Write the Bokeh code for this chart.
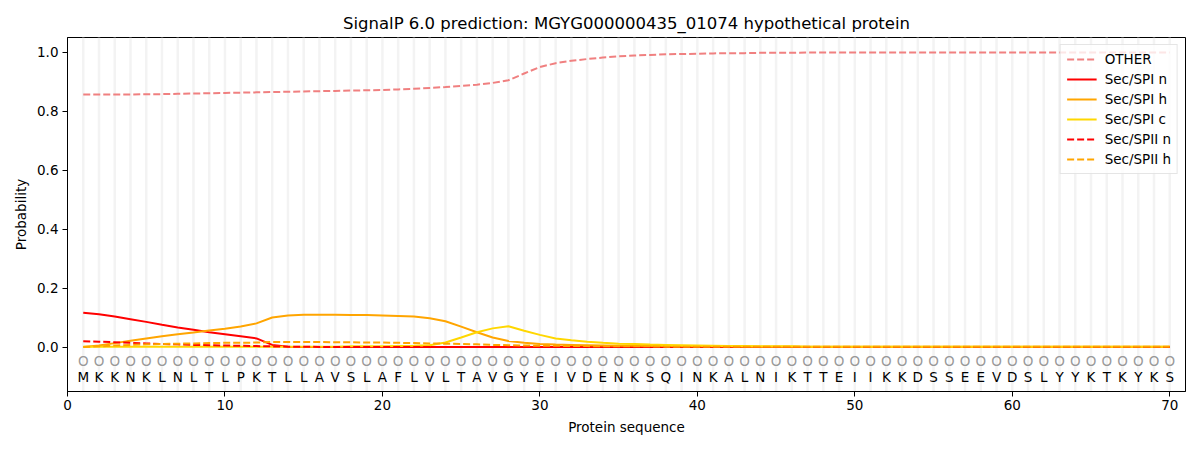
from bokeh.plotting import figure
from bokeh.models import Range1d, FixedTicker, PrintfTickFormatter, Legend, LegendItem, ColumnDataSource
from bokeh.core.properties import value
from bokeh.embed import file_html
from bokeh.resources import INLINE

sequence = list("MKKNKLNLTLPKTLLAVSLAFLVLTAVGYEIVDENKSQINKALNIKTTEIIKKDSSEEVDSLYYKTKYKS")
positions = list(range(1, len(sequence) + 1))
labels = ["O"] * len(sequence)

other = [0.857, 0.857, 0.857, 0.857, 0.858, 0.858, 0.859, 0.860, 0.861, 0.862,
         0.863, 0.864, 0.865, 0.866, 0.867, 0.868, 0.869, 0.870, 0.871, 0.872,
         0.874, 0.876, 0.879, 0.882, 0.886, 0.890, 0.896, 0.905, 0.928, 0.950,
         0.963, 0.971, 0.977, 0.982, 0.986, 0.989, 0.991, 0.993, 0.994, 0.995,
         0.996, 0.997, 0.997, 0.998, 0.998, 0.998, 0.999, 0.999, 0.999, 0.999,
         0.999, 0.999, 0.999, 0.999, 0.999, 0.999, 0.999, 0.999, 0.999, 0.999,
         0.999, 0.999, 0.999, 0.999, 0.999, 0.999, 0.999, 0.999, 0.999, 0.999]
spi_n = [0.117, 0.112, 0.104, 0.095, 0.086, 0.076, 0.067, 0.059, 0.051, 0.044,
         0.037, 0.030, 0.008, 0.002, 0.001, 0.001, 0.001, 0.001, 0.001, 0.001,
         0.001, 0.001, 0.001, 0.001, 0.001, 0.001, 0.001, 0.001, 0.001, 0.001,
         0.001, 0.001, 0.001, 0.001, 0.001, 0.001, 0.001, 0.001, 0.001, 0.001,
         0.001, 0.001, 0.001, 0.001, 0.001, 0.001, 0.001, 0.001, 0.001, 0.001,
         0.001, 0.001, 0.001, 0.001, 0.001, 0.001, 0.001, 0.001, 0.001, 0.001,
         0.001, 0.001, 0.001, 0.001, 0.001, 0.001, 0.001, 0.001, 0.001, 0.001]
spi_h = [0.001, 0.006, 0.014, 0.022, 0.030, 0.037, 0.044, 0.050, 0.057, 0.063,
         0.070, 0.081, 0.101, 0.108, 0.110, 0.110, 0.110, 0.109, 0.109, 0.108,
         0.106, 0.104, 0.098, 0.088, 0.070, 0.051, 0.033, 0.021, 0.015, 0.011,
         0.009, 0.008, 0.007, 0.006, 0.005, 0.005, 0.004, 0.004, 0.003, 0.003,
         0.003, 0.003, 0.002, 0.002, 0.002, 0.002, 0.002, 0.002, 0.002, 0.002,
         0.002, 0.002, 0.002, 0.002, 0.002, 0.002, 0.002, 0.002, 0.002, 0.002,
         0.002, 0.002, 0.002, 0.002, 0.002, 0.002, 0.002, 0.002, 0.002, 0.002]
spi_c = [0.002, 0.002, 0.002, 0.002, 0.002, 0.002, 0.002, 0.002, 0.002, 0.002,
         0.002, 0.002, 0.002, 0.002, 0.002, 0.002, 0.002, 0.003, 0.003, 0.003,
         0.004, 0.005, 0.007, 0.016, 0.033, 0.051, 0.064, 0.071, 0.056, 0.042,
         0.030, 0.024, 0.019, 0.015, 0.012, 0.011, 0.009, 0.008, 0.007, 0.006,
         0.005, 0.004, 0.004, 0.003, 0.003, 0.003, 0.002, 0.002, 0.002, 0.002,
         0.002, 0.002, 0.002, 0.002, 0.002, 0.002, 0.002, 0.002, 0.002, 0.002,
         0.002, 0.002, 0.002, 0.002, 0.002, 0.002, 0.002, 0.002, 0.002, 0.002]
spii_n = [0.020, 0.019, 0.017, 0.015, 0.013, 0.011, 0.010, 0.008, 0.007, 0.006,
          0.005, 0.004, 0.003, 0.002, 0.002, 0.001, 0.001, 0.001, 0.001, 0.001,
          0.001, 0.001, 0.001, 0.001, 0.001, 0.001, 0.001, 0.001, 0.001, 0.001,
          0.001, 0.001, 0.001, 0.001, 0.001, 0.001, 0.001, 0.001, 0.001, 0.001,
          0.001, 0.001, 0.001, 0.001, 0.001, 0.001, 0.001, 0.001, 0.001, 0.001,
          0.001, 0.001, 0.001, 0.001, 0.001, 0.001, 0.001, 0.001, 0.001, 0.001,
          0.001, 0.001, 0.001, 0.001, 0.001, 0.001, 0.001, 0.001, 0.001, 0.001]
spii_h = [0.001, 0.003, 0.006, 0.008, 0.010, 0.011, 0.012, 0.013, 0.014, 0.015,
          0.015, 0.016, 0.018, 0.018, 0.018, 0.018, 0.017, 0.017, 0.016, 0.016,
          0.015, 0.014, 0.013, 0.012, 0.011, 0.010, 0.008, 0.007, 0.006, 0.005,
          0.005, 0.004, 0.004, 0.003, 0.003, 0.003, 0.003, 0.002, 0.002, 0.002,
          0.002, 0.002, 0.002, 0.002, 0.002, 0.002, 0.002, 0.002, 0.002, 0.002,
          0.002, 0.002, 0.002, 0.002, 0.002, 0.002, 0.002, 0.002, 0.002, 0.002,
          0.002, 0.002, 0.002, 0.002, 0.002, 0.002, 0.002, 0.002, 0.002, 0.002]

x_ticks = [0, 10, 20, 30, 40, 50, 60, 70]
y_ticks = [0.0, 0.2, 0.4, 0.6, 0.8, 1.0]

FONT = "DejaVu Sans"

p = figure(output_backend="svg", toolbar_location=None,
           frame_width=1118, frame_height=354,
           min_border_left=67, min_border_right=7, min_border_top=37, min_border_bottom=50,
           x_range=Range1d(0, 71), y_range=Range1d(-0.15, 1.05),
           title="SignalP 6.0 prediction: MGYG000000435_01074 hypothetical protein")

p.title.align = "center"
p.title.text_font = FONT
p.title.text_font_style = "normal"
p.title.text_font_size = "16.5px"
p.title.text_color = "black"

p.xgrid.visible = False
p.ygrid.visible = False
p.outline_line_color = "black"
p.outline_line_alpha = 1.0
p.outline_line_width = 1
p.background_fill_color = "white"
p.border_fill_color = "white"

for ax in (p.xaxis[0], p.yaxis[0]):
    ax.major_label_text_font = FONT
    ax.major_label_text_font_size = "13.5px"
    ax.major_label_text_color = "black"
    ax.axis_label_text_font = FONT
    ax.axis_label_text_font_size = "13.5px"
    ax.axis_label_text_font_style = "normal"
    ax.axis_label_text_color = "black"
    ax.major_tick_in = 0
    ax.major_tick_out = 5
    ax.minor_tick_in = 0
    ax.minor_tick_out = 0
    ax.axis_line_color = "black"
    ax.major_tick_line_color = "black"

p.xaxis[0].ticker = FixedTicker(ticks=x_ticks)
p.xaxis[0].formatter = PrintfTickFormatter(format="%d")
p.xaxis[0].axis_label = "Protein sequence"
p.xaxis[0].major_label_standoff = 3
p.xaxis[0].axis_label_standoff = 6
p.yaxis[0].ticker = FixedTicker(ticks=y_ticks)
p.yaxis[0].formatter = PrintfTickFormatter(format="%.1f")
p.yaxis[0].axis_label = "Probability"
p.yaxis[0].major_label_standoff = 4
p.yaxis[0].axis_label_standoff = 5

# light vertical lines at each residue
p.segment(x0=positions, x1=positions, y0=[-0.15] * len(positions), y1=[1.05] * len(positions),
          line_color="#f3f3f3", line_width=2.5)

src = ColumnDataSource(dict(x=positions, other=other, spi_n=spi_n, spi_h=spi_h, spi_c=spi_c,
                            spii_n=spii_n, spii_h=spii_h))

r_other = p.line("x", "other", source=src, line_color="lightcoral", line_width=2, line_dash="7 3")
r_spin = p.line("x", "spi_n", source=src, line_color="red", line_width=2)
r_spih = p.line("x", "spi_h", source=src, line_color="orange", line_width=2)
r_spic = p.line("x", "spi_c", source=src, line_color="gold", line_width=2)
r_spiin = p.line("x", "spii_n", source=src, line_color="red", line_width=2, line_dash="7 3")
r_spiih = p.line("x", "spii_h", source=src, line_color="orange", line_width=2, line_dash="7 3")

seq_src = ColumnDataSource(dict(x=positions, seq=sequence, lab=labels,
                                y_lab=[-0.045] * len(positions), y_seq=[-0.1] * len(positions)))
p.text(x="x", y="y_lab", text="lab", source=seq_src, text_align="center", text_baseline="middle",
       text_font=value(FONT), text_font_size="13.5px", text_color="#999999")
p.text(x="x", y="y_seq", text="seq", source=seq_src, text_align="center", text_baseline="middle",
       text_font=value(FONT), text_font_size="13.5px", text_color="black")

legend = Legend(items=[
    LegendItem(label="OTHER", renderers=[r_other]),
    LegendItem(label="Sec/SPI n", renderers=[r_spin]),
    LegendItem(label="Sec/SPI h", renderers=[r_spih]),
    LegendItem(label="Sec/SPI c", renderers=[r_spic]),
    LegendItem(label="Sec/SPII n", renderers=[r_spiin]),
    LegendItem(label="Sec/SPII h", renderers=[r_spiih]),
], location="top_right")
legend.label_text_font = FONT
legend.label_text_font_size = "13.5px"
legend.label_text_color = "black"
legend.glyph_width = 30
legend.glyph_height = 16
legend.label_height = 16
legend.label_standoff = 8
legend.spacing = 4
legend.padding = 6
legend.margin = 7
legend.border_line_color = "#cccccc"
legend.border_line_width = 1
legend.background_fill_color = "white"
legend.background_fill_alpha = 0.8
p.add_layout(legend)

open("out.html", "w").write(file_html(p, INLINE))
